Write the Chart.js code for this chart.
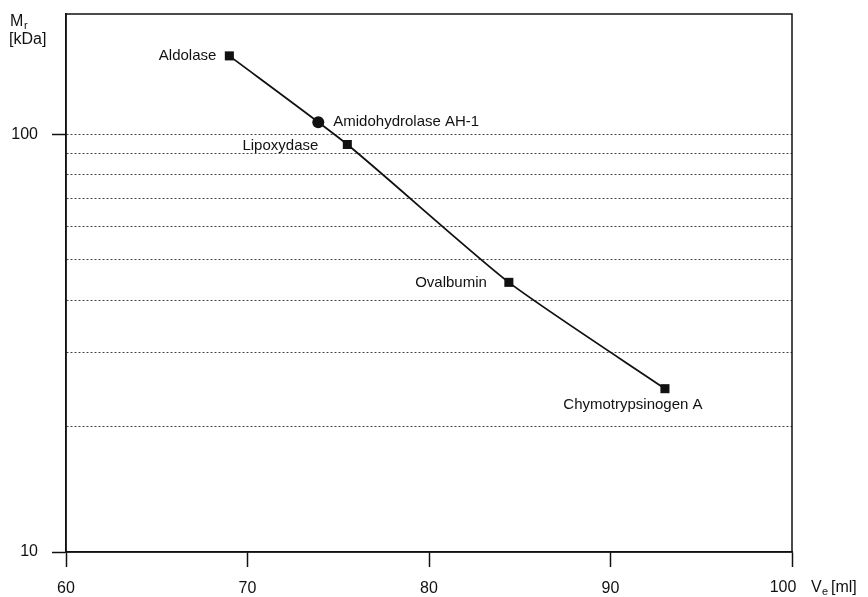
<!DOCTYPE html>
<html>
<head>
<meta charset="utf-8">
<script src="https://cdn.jsdelivr.net/npm/chart.js@4/dist/chart.umd.min.js"></script>
<style>
  html, body { margin: 0; padding: 0; background: #fff; }
  #wrap { width: 868px; height: 597px; }
</style>
</head>
<body>
<div id="wrap"><canvas id="chart"></canvas></div>
<script>
// calibration standards
const standardNames = ["Aldolase", "Lipoxydase", "Ovalbumin", "Chymotrypsinogen A"];
const standardVe = [69.0, 75.5, 84.4, 93.0];
const standardMr = [154, 94.5, 44.2, 24.6];

// the sample
const sampleNames = ["Amidohydrolase AH-1"];
const sampleVe = [73.9];
const sampleMr = [106.8];

// axes
const xTicks = [60, 70, 80, 90, 100];
const yGrid = [10, 20, 30, 40, 50, 60, 70, 80, 90, 100];
const yLabelled = [10, 100];

const FONT = "'Liberation Sans', Arial, Helvetica, sans-serif";
const INK = "#111";

// where each name sits relative to its marker
const labelPos = {
    "Aldolase": { dx: -13, dy: 0, align: "right" },
    "Lipoxydase": { dx: -29, dy: 1, align: "right" },
    "Ovalbumin": { dx: -22, dy: 0, align: "right" },
    "Chymotrypsinogen A": { dx: -32, dy: 16, align: "center" },
    "Amidohydrolase AH-1": { dx: 15, dy: 0, align: "left" }
};

const labelsPlugin = {
    id: "labels",
    afterDatasetsDraw(chart) {
        const ctx = chart.ctx;
        const xs = chart.scales.x;
        const ys = chart.scales.y;
        const a = chart.chartArea;

        ctx.save();
        // frame
        ctx.strokeStyle = INK;
        ctx.lineWidth = 1.5;
        ctx.setLineDash([]);
        ctx.strokeRect(a.left, a.top, a.right - a.left, a.bottom - a.top);

        ctx.fillStyle = INK;
        ctx.textBaseline = "middle";
        ctx.font = "15px " + FONT;
        const put = (names, ve, mr) => {
            names.forEach((n, i) => {
                const p = labelPos[n];
                ctx.textAlign = p.align;
                ctx.fillText(n, xs.getPixelForValue(ve[i]) + p.dx, ys.getPixelForValue(mr[i]) + p.dy);
            });
        };
        put(standardNames, standardVe, standardMr);
        put(sampleNames, sampleVe, sampleMr);

        // last x label sits a little left of its tick
        ctx.font = "16px " + FONT;
        ctx.textAlign = "center";
        ctx.textBaseline = "middle";
        const last = xTicks[xTicks.length - 1];
        ctx.fillText(String(last), xs.getPixelForValue(last) - 9, 588);

        // axis titles
        ctx.textAlign = "left";
        ctx.fillText("M", 10, 22);
        ctx.fillText("[kDa]", 9, 40);
        ctx.fillText("V", 811, 588);
        ctx.fillText("[ml]", 831, 588);
        ctx.font = "11px " + FONT;
        ctx.fillText("r", 24, 26);
        ctx.fillText("e", 822, 592);
        ctx.restore();
    }
};

const ctx = document.getElementById("chart");

new Chart(ctx, {
    type: "scatter",
    data: {
        datasets: [
            {
                label: "Standards",
                data: standardVe.map((v, i) => ({ x: v, y: standardMr[i] })),
                showLine: true,
                borderColor: INK,
                borderWidth: 1.8,
                tension: 0.2,
                pointStyle: "rect",
                pointRadius: 6.4,
                pointBackgroundColor: INK,
                pointBorderColor: INK,
                pointBorderWidth: 0
            },
            {
                label: "Sample",
                data: sampleVe.map((v, i) => ({ x: v, y: sampleMr[i] })),
                pointStyle: "circle",
                pointRadius: 6,
                pointBackgroundColor: INK,
                pointBorderColor: INK,
                pointBorderWidth: 0
            }
        ]
    },
    options: {
        responsive: true,
        maintainAspectRatio: false,
        animation: false,
        layout: { padding: { top: 14, right: 76, bottom: 0, left: 0 } },
        plugins: {
            legend: { display: false },
            tooltip: { enabled: false }
        },
        scales: {
            x: {
                type: "linear",
                min: 60,
                max: 100,
                afterBuildTicks: s => { s.ticks = xTicks.map(v => ({ value: v })); },
                afterFit: s => { s.height = 45; s.paddingLeft = 0; s.paddingRight = 0; },
                border: { display: true, color: INK, width: 1.5 },
                grid: {
                    drawOnChartArea: false,
                    drawTicks: true,
                    tickLength: 15,
                    tickColor: INK,
                    tickWidth: 1.5
                },
                ticks: {
                    color: INK,
                    padding: 12,
                    maxRotation: 0,
                    font: { family: FONT, size: 16 },
                    callback: v => v === xTicks[xTicks.length - 1] ? "" : String(v)
                }
            },
            y: {
                type: "logarithmic",
                min: 10,
                max: 194,
                afterBuildTicks: s => { s.ticks = yGrid.map(v => ({ value: v })); },
                afterFit: s => { s.width = 66; s.paddingTop = 0; s.paddingBottom = 0; },
                border: { display: true, color: INK, width: 1.5, dash: [2, 2] },
                grid: {
                    color: c => (c.tick && c.tick.value === 10) ? "rgba(0,0,0,0)" : "#444",
                    lineWidth: 1,
                    drawTicks: true,
                    tickLength: 14,
                    tickBorderDash: [],
                    tickColor: c => (c.tick && yLabelled.includes(c.tick.value)) ? INK : "rgba(0,0,0,0)",
                    tickWidth: 1.5
                },
                ticks: {
                    color: INK,
                    padding: 14,
                    autoSkip: false,
                    font: { family: FONT, size: 16 },
                    callback: v => yLabelled.includes(v) ? String(v) : ""
                }
            }
        }
    },
    plugins: [labelsPlugin]
});
</script>
</body>
</html>
